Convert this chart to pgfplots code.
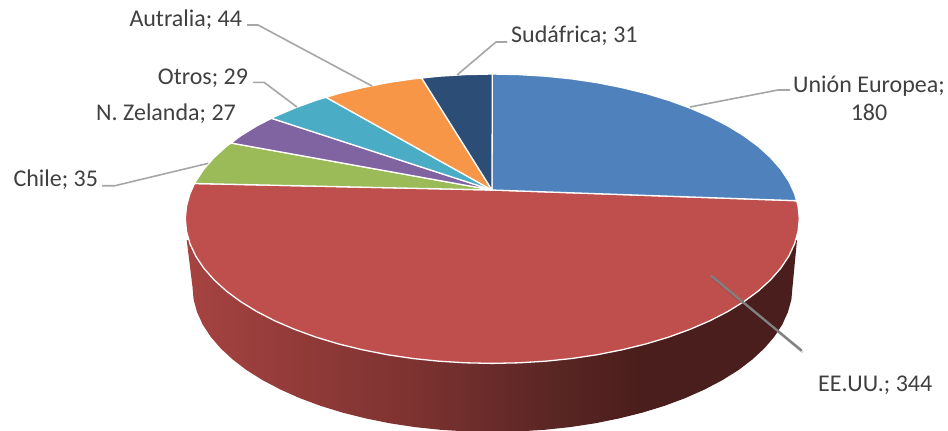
\documentclass[border=0pt]{standalone}
\usepackage{pgfplots}
\pgfplotsset{compat=1.18}
\usepackage{fontspec}
\setmainfont{Carlito}
\definecolor{cblue}{HTML}{4F81BD}
\definecolor{cred}{HTML}{BE4F4C}
\definecolor{cgreen}{HTML}{9BBB59}
\definecolor{cpurple}{HTML}{8064A2}
\definecolor{cteal}{HTML}{4BACC6}
\definecolor{corange}{HTML}{F79646}
\definecolor{cnavy}{HTML}{2C4D75}
\definecolor{ctext}{HTML}{404040}
\definecolor{clead}{HTML}{A6A6A6}
\definecolor{sa}{HTML}{A64341}
\definecolor{sb}{HTML}{7E3331}
\definecolor{sc}{HTML}{5A2624}
\definecolor{sd}{HTML}{4A1E1C}
\pgfdeclarehorizontalshading{pieside}{100bp}{
  color(0bp)=(sa);
  color(25bp)=(sa);
  color(43bp)=(sb);
  color(55bp)=(sc);
  color(62bp)=(sd);
  color(100bp)=(sd)}
\tikzset{
  wedge/.style={draw=white, line width=1.3pt, line join=round},
  lead/.style={draw=clead, line width=1.6pt, line join=round},
  lab/.style={anchor=base west, inner sep=0pt, text=ctext, font=\fontsize{24}{28}\selectfont},
}
\begin{document}
\begin{tikzpicture}
\useasboundingbox (0,0) rectangle (948pt,431pt);
\begin{axis}[
  at={(0,0)}, anchor=south west,
  scale only axis, width=948pt, height=431pt,
  xmin=0, xmax=948, ymin=0, ymax=431, y dir=reverse,
  hide axis,
]
% side of the pie
\addplot[shading=pieside, draw=none] coordinates {
(792.5,287)(791.4,299.6)(787.9,312.2)(782.3,324.5)(774.4,336.6)(764.4,348.3)(752.3,359.5)(738.3,370.2)(722.3,380.2)(704.6,389.5)(685.3,398.1)(664.6,405.8)(642.5,412.6)(619.3,418.4)(595.1,423.3)(570.1,427.1)(544.6,429.8)(518.7,431.4)(492.5,432)(466.3,431.4)(440.4,429.8)(414.9,427.1)(389.9,423.3)(365.7,418.4)(342.5,412.6)(320.4,405.8)(299.7,398.1)(280.4,389.5)(262.7,380.2)(246.7,370.2)(232.7,359.5)(220.6,348.3)(210.6,336.6)(202.7,324.5)(197.1,312.2)(193.6,299.6)(192.5,287)(186.7,240)(797,240)
} -- cycle;
% EE.UU. 344
\addplot[fill=cred, wedge] coordinates {
(492,190)(796.6,200.7)(798.1,206.1)(799.3,218.7)(798.1,231.3)(794.6,243.8)(788.8,256.2)(780.8,268.2)(770.5,279.9)(758.2,291.1)(743.8,301.7)(727.5,311.7)(709.4,321)(689.6,329.5)(668.4,337.2)(645.8,344)(622,349.8)(597.3,354.7)(571.8,358.5)(545.6,361.2)(519.1,362.8)(492.3,363.4)(465.5,362.8)(439,361.2)(412.8,358.5)(387.3,354.7)(362.6,349.8)(338.8,344)(316.2,337.2)(295,329.5)(275.2,321)(257.1,311.7)(240.8,301.7)(226.4,291.1)(214.1,279.9)(203.8,268.2)(195.8,256.2)(190,243.8)(186.5,231.3)(185.3,218.7)(186.5,206.1)(190,193.6)(194.5,183.5)
} -- cycle;
% Union Europea 180
\addplot[fill=cblue, wedge] coordinates {
(492,190)(492.3,74)(519.1,74.6)(545.6,76.2)(571.8,78.9)(597.3,82.7)(622,87.6)(645.8,93.4)(668.4,100.2)(689.6,107.9)(709.4,116.4)(727.5,125.7)(743.8,135.7)(758.2,146.3)(770.5,157.5)(780.8,169.2)(788.8,181.2)(794.6,193.6)(796.6,200.7)
} -- cycle;
% Chile 35
\addplot[fill=cgreen, wedge] coordinates {(492,190)(194.5,183.5)(195.8,181.2)(203.8,169.2)(214.1,157.5)(226.4,146.3)(231,143)} -- cycle;
% N. Zelanda 27
\addplot[fill=cpurple, wedge] coordinates {(492,190)(231,143)(240.8,135.7)(257.1,125.7)(271.5,118.3)} -- cycle;
% Otros 29
\addplot[fill=cteal, wedge] coordinates {(492,190)(271.5,118.3)(275.2,116.4)(295,107.9)(316.2,100.2)(326,97.3)} -- cycle;
% Autralia 44
\addplot[fill=corange, wedge] coordinates {(492,190)(326,97.3)(338.8,93.4)(362.6,87.6)(387.3,82.7)(412.8,78.9)(421.7,78)} -- cycle;
% Sudafrica 31
\addplot[fill=cnavy, wedge] coordinates {(492,190)(421.7,78)(439,76.2)(465.5,74.6)(492.3,74)} -- cycle;
% leaders
\addplot[lead] coordinates {(690,107)(778,90)(790,90)};
\addplot[lead] coordinates {(457,75)(496,42)(507,42)};
\addplot[lead] coordinates {(372,86)(258,25)(247,25)};
\addplot[lead] coordinates {(297,107)(264,82.3)(253,82.3)};
\addplot[lead] coordinates {(208.3,163.3)(115,185.7)(102,185.7)};
\addplot[draw=black, draw opacity=0.12, line width=2.4pt] coordinates {(712,277.5)(803,352.5)};
\addplot[draw=black!50, line width=2.4pt] coordinates {(711,275.7)(801.7,350.7)};
% labels
\node[lab] at (axis cs:129.3,27) {Autralia; 44};
\node[lab] at (axis cs:157.7,84) {Otros; 29};
\node[lab] at (axis cs:96,120) {N. Zelanda; 27};
\node[lab] at (axis cs:13.3,186.5) {Chile; 35};
\node[lab] at (axis cs:511,42) {Sudáfrica; 31};
\node[lab] at (axis cs:793,92) {Unión Europea;};
\node[lab, anchor=base] at (axis cs:869,120) {180};
\node[lab] at (axis cs:818,391) {EE.UU.; 344};
\end{axis}
\end{tikzpicture}
\end{document}
